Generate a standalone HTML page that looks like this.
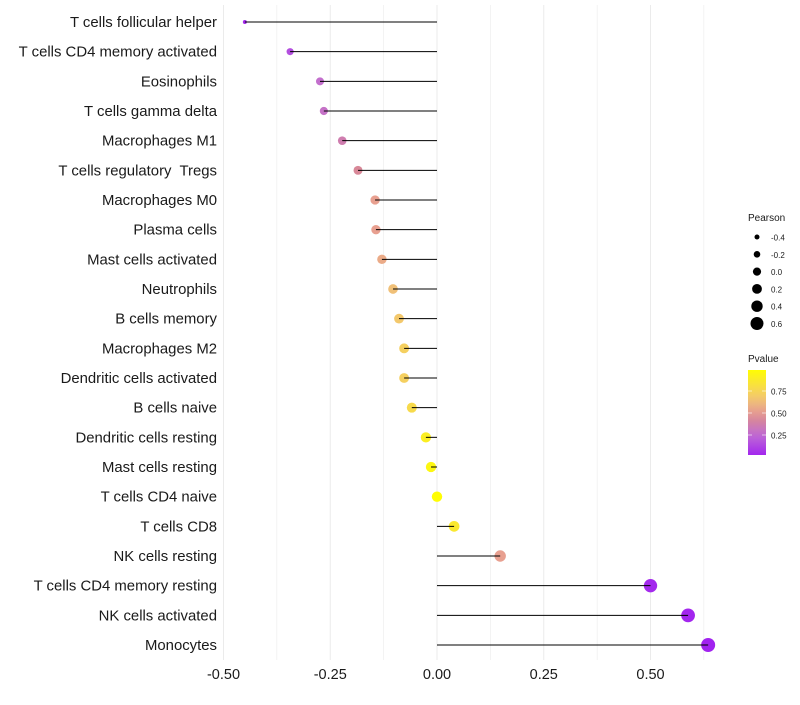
<!DOCTYPE html>
<html><head><meta charset="utf-8"><style>
body{margin:0;background:#fff;font-family:"Liberation Sans",sans-serif}
</style></head><body>
<svg id="chart" width="800" height="700" xmlns="http://www.w3.org/2000/svg" font-family="Liberation Sans, sans-serif"></svg>
<script>
const categories=["T cells follicular helper","T cells CD4 memory activated","Eosinophils","T cells gamma delta","Macrophages M1","T cells regulatory  Tregs","Macrophages M0","Plasma cells","Mast cells activated","Neutrophils","B cells memory","Macrophages M2","Dendritic cells activated","B cells naive","Dendritic cells resting","Mast cells resting","T cells CD4 naive","T cells CD8","NK cells resting","T cells CD4 memory resting","NK cells activated","Monocytes"];
const pearson=[-0.45,-0.344,-0.274,-0.265,-0.222,-0.185,-0.145,-0.143,-0.129,-0.103,-0.089,-0.077,-0.077,-0.059,-0.026,-0.014,0.0,0.04,0.148,0.50,0.588,0.635];
const pvalue=[0.03,0.15,0.27,0.29,0.36,0.43,0.52,0.52,0.56,0.64,0.68,0.72,0.72,0.78,0.9,0.95,0.99,0.86,0.52,0.03,0.02,0.01];
const xTicks=[-0.5,-0.25,0,0.25,0.5];
const xTickLabels=["-0.50","-0.25","0.00","0.25","0.50"];
const sizeLegend=[-0.4,-0.2,0.0,0.2,0.4,0.6];
const sizeLegendLabels=["-0.4","-0.2","0.0","0.2","0.4","0.6"];
const pLegend=[0.25,0.5,0.75];
const pLegendLabels=["0.25","0.50","0.75"];

const svg=document.getElementById('chart');
const NS='http://www.w3.org/2000/svg';
const x=v=>437+v*427;
const y=i=>22+i*29.667;
const r=v=>2+5*Math.sqrt(Math.max(0,(v+0.45)/1.085));
const stops=[[0,[160,32,240]],[0.25,[192,108,212]],[0.43,[216,136,152]],[0.52,[232,160,144]],[0.64,[240,192,120]],[0.72,[245,208,96]],[1,[255,255,0]]];
function col(p){for(let k=1;k<stops.length;k++){if(p<=stops[k][0]){const [p0,a]=stops[k-1],[p1,b]=stops[k];const t=(p-p0)/(p1-p0);return 'rgb('+a.map((c,j)=>Math.round(c+(b[j]-c)*t)).join(',')+')';}}return 'rgb(255,255,0)';}
function mk(t,attrs,parent){const e=document.createElementNS(NS,t);for(const k in attrs)e.setAttribute(k,attrs[k]);(parent||svg).appendChild(e);return e;}

const grid=mk('g',{});


for(let v=-0.5;v<=0.626;v+=0.125){mk('line',{x1:x(v),x2:x(v),y1:5,y2:660,stroke:'#ebebeb','stroke-width':Math.abs((v*4)%1)<1e-6?1:0.6},grid);}

xTicks.forEach((v,i)=>{const t=mk('text',{x:x(v),y:679,'text-anchor':'middle','font-size':14.5,fill:'#1a1a1a'});t.textContent=xTickLabels[i];

});

categories.forEach((c,i)=>{
 const yy=y(i);
 const lab=mk('text',{x:217,y:yy+5,'text-anchor':'end','font-size':14.9,fill:'#1a1a1a'});lab.textContent=c;lab.style.whiteSpace='pre';
 
 
 const dot=mk('circle',{cx:x(pearson[i]),cy:yy,r:r(pearson[i]),fill:col(pvalue[i])});
 
 
 const ln=mk('line',{x1:x(0),x2:x(pearson[i]),y1:yy,y2:yy,stroke:'#000','stroke-width':1});
 
 
});

const lg=mk('g',{});


mk('text',{x:748,y:221,'font-size':10,fill:'#1a1a1a'},lg).textContent='Pearson';
sizeLegend.forEach((v,i)=>{const yy=237+i*17.3;mk('circle',{cx:757,cy:yy,r:2.5+i*0.8,fill:'#000'},lg);
 mk('text',{x:771,y:yy+3.5,'font-size':8,fill:'#1a1a1a'},lg).textContent=sizeLegendLabels[i];});

const cg=mk('g',{});


mk('text',{x:748,y:362,'font-size':10,fill:'#1a1a1a'},cg).textContent='Pvalue';
const defs=mk('defs',{});const gr=mk('linearGradient',{id:'pg',x1:0,y1:1,x2:0,y2:0},defs);
for(let k=0;k<=10;k++){const p=0.02+k*0.097;mk('stop',{offset:k/10,'stop-color':col(p)},gr);}
mk('rect',{x:748,y:370,width:18,height:85,fill:'url(#pg)'},cg);
const py=p=>435-(p-0.25)*88;
pLegend.forEach((p,i)=>{mk('line',{x1:748,x2:752,y1:py(p),y2:py(p),stroke:'#fff','stroke-opacity':0.6},cg);mk('line',{x1:762,x2:766,y1:py(p),y2:py(p),stroke:'#fff','stroke-opacity':0.6},cg);
 mk('text',{x:771,y:py(p)+3.5,'font-size':8,fill:'#1a1a1a'},cg).textContent=pLegendLabels[i];});
</script>
</body></html>
